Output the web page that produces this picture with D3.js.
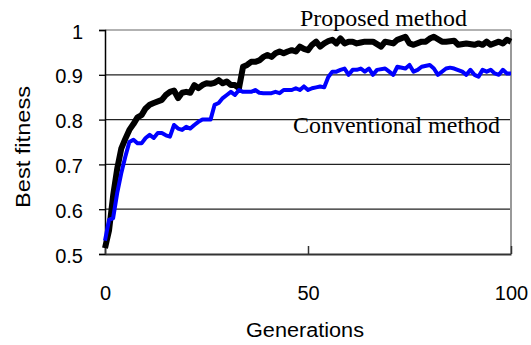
<!DOCTYPE html>
<html>
<head>
<meta charset="utf-8">
<script src="https://cdn.jsdelivr.net/npm/d3@7.9.0/dist/d3.min.js"></script>
<style>
  body { margin: 0; background: #fff; }
  svg { display: block; }
  .tick-label { font-family: "Liberation Sans", Arial, sans-serif; font-size: 20px; fill: #000; }
  .axis-title { font-family: "Liberation Sans", Arial, sans-serif; font-size: 20px; fill: #000; }
  .series-label { font-family: "Liberation Serif", "Times New Roman", serif; font-size: 23px; fill: #000; }
</style>
</head>
<body>
<svg id="chart" width="531" height="345"></svg>
<script>
// values: [generation, best fitness]
const proposed = [
  [0, 0.513], [1, 0.553], [2, 0.63], [3, 0.69], [4, 0.735], [5, 0.757], [6, 0.777],
  [7, 0.79], [8, 0.805], [9, 0.81], [10, 0.825], [11, 0.833], [12, 0.837], [14, 0.844],
  [15, 0.855], [16, 0.862], [17, 0.865], [18, 0.848], [19, 0.86], [20, 0.862], [21, 0.86],
  [22, 0.877], [23, 0.87], [24, 0.877], [25, 0.881], [26, 0.88], [27, 0.882], [28, 0.888],
  [29, 0.881], [30, 0.885], [31, 0.877], [32, 0.877], [33, 0.87], [34, 0.918], [35, 0.922],
  [36, 0.929], [37, 0.929], [38, 0.932], [39, 0.94], [40, 0.944], [41, 0.94], [42, 0.948],
  [43, 0.952], [44, 0.948], [45, 0.952], [46, 0.955], [47, 0.952], [48, 0.963], [49, 0.958],
  [50, 0.955], [51, 0.967], [52, 0.974], [53, 0.963], [54, 0.97], [55, 0.975], [56, 0.978],
  [57, 0.97], [58, 0.981], [59, 0.97], [60, 0.974], [61, 0.974], [62, 0.97], [63, 0.972],
  [64, 0.974], [66, 0.974], [68, 0.963], [69, 0.974], [71, 0.97], [72, 0.978], [74, 0.985],
  [75, 0.97], [76, 0.967], [78, 0.974], [79, 0.974], [80, 0.981], [81, 0.985], [83, 0.974],
  [84, 0.974], [86, 0.976], [87, 0.967], [89, 0.97], [91, 0.967], [92, 0.97], [93, 0.967],
  [94, 0.974], [95, 0.967], [97, 0.974], [98, 0.97], [99, 0.978], [100, 0.974]
];

const conventional = [
  [0, 0.53], [1, 0.576], [2, 0.58], [3, 0.636], [4, 0.68], [5, 0.717], [6, 0.75],
  [7, 0.755], [8, 0.747], [9, 0.747], [10, 0.759], [11, 0.766], [12, 0.759], [13, 0.77],
  [14, 0.77], [15, 0.765], [16, 0.762], [17, 0.788], [18, 0.78], [19, 0.777], [20, 0.784],
  [21, 0.78], [22, 0.788], [23, 0.795], [24, 0.8], [25, 0.8], [26, 0.8], [27, 0.833],
  [28, 0.837], [29, 0.848], [30, 0.855], [31, 0.862], [32, 0.855], [33, 0.866], [34, 0.862],
  [35, 0.862], [36, 0.862], [37, 0.866], [38, 0.86], [39, 0.859], [40, 0.859], [41, 0.859],
  [42, 0.862], [43, 0.859], [44, 0.866], [45, 0.866], [46, 0.866], [47, 0.87], [48, 0.866],
  [49, 0.874], [50, 0.866], [51, 0.87], [52, 0.872], [53, 0.874], [54, 0.872], [55, 0.895],
  [56, 0.907], [57, 0.907], [58, 0.911], [59, 0.914], [60, 0.9], [61, 0.911], [62, 0.911],
  [63, 0.914], [64, 0.907], [65, 0.914], [66, 0.9], [67, 0.911], [69, 0.914], [70, 0.907],
  [71, 0.9], [72, 0.918], [74, 0.914], [75, 0.922], [76, 0.907], [77, 0.911], [78, 0.918],
  [80, 0.922], [81, 0.914], [82, 0.9], [84, 0.914], [85, 0.916], [86, 0.914], [88, 0.907],
  [89, 0.9], [90, 0.911], [91, 0.9], [92, 0.896], [93, 0.911], [94, 0.907], [95, 0.911],
  [96, 0.903], [97, 0.9], [98, 0.911], [99, 0.903], [100, 0.903]
];

const xTicks = [0, 50, 100];
const yTicks = [0.5, 0.6, 0.7, 0.8, 0.9, 1];
const gridValues = [0.6, 0.7, 0.8, 0.9];

const svg = d3.select("#chart");
const x = d3.scaleLinear().domain([0, 100]).range([105, 511]);
const y = d3.scaleLinear().domain([0.5, 1]).range([254, 30]);

// grid lines
svg.append("g")
  .selectAll("line")
  .data(gridValues)
  .join("line")
  .attr("x1", x(0)).attr("x2", x(100))
  .attr("y1", d => y(d)).attr("y2", d => y(d))
  .attr("stroke", "#222")
  .attr("stroke-width", 1.3);

// frame: top + right grey, left black, bottom dark
svg.append("line")
  .attr("x1", x(0)).attr("x2", x(100)).attr("y1", y(1)).attr("y2", y(1))
  .attr("stroke", "#999").attr("stroke-width", 1.5);
svg.append("line")
  .attr("x1", x(100)).attr("x2", x(100)).attr("y1", y(1)).attr("y2", y(0.5))
  .attr("stroke", "#999").attr("stroke-width", 2);

// y axis
const yAxis = svg.append("g")
  .attr("transform", `translate(${x(0)},0)`)
  .call(d3.axisLeft(y).tickValues(yTicks).tickSize(6).tickFormat(d => d === 1 ? "1" : d3.format(".1f")(d)));
yAxis.select(".domain").attr("stroke", "#000").attr("stroke-width", 1.5);
yAxis.selectAll(".tick line").attr("stroke", "#000").attr("stroke-width", 1.3);
yAxis.selectAll(".tick text")
  .attr("class", "tick-label")
  .attr("x", -22)
  .attr("dy", "0.4em")
  .style("font-family", null).style("font-size", null);
yAxis.attr("font-family", null).attr("font-size", null);

// x axis with inward ticks
const xAxis = svg.append("g")
  .attr("transform", `translate(0,${y(0.5)})`)
  .call(d3.axisBottom(x).tickValues(xTicks).tickSizeInner(-8).tickSizeOuter(0));
xAxis.select(".domain").attr("stroke", "#333").attr("stroke-width", 2.2);
xAxis.selectAll(".tick line").attr("stroke", "#333").attr("stroke-width", 1.5);
xAxis.selectAll(".tick text")
  .attr("class", "tick-label")
  .attr("y", 46)
  .attr("dy", 0);
xAxis.attr("font-family", null).attr("font-size", null);

// series lines
const line = d3.line().x(d => x(d[0])).y(d => y(d[1])).curve(d3.curveLinear);

svg.append("path")
  .datum(proposed)
  .attr("d", line)
  .attr("fill", "none")
  .attr("stroke", "#000")
  .attr("stroke-width", 6)
  .attr("stroke-linejoin", "round");

svg.append("path")
  .datum(conventional)
  .attr("d", line)
  .attr("fill", "none")
  .attr("stroke", "#0000ff")
  .attr("stroke-width", 4)
  .attr("stroke-linejoin", "round");

// series labels
svg.append("text").attr("class", "series-label")
  .attr("x", 300).attr("y", 26)
  .attr("textLength", 167).attr("lengthAdjust", "spacingAndGlyphs")
  .text("Proposed method");
svg.append("text").attr("class", "series-label")
  .attr("x", 293).attr("y", 133)
  .attr("textLength", 207).attr("lengthAdjust", "spacingAndGlyphs")
  .text("Conventional method");

// axis titles
svg.append("text").attr("class", "axis-title")
  .attr("x", 305).attr("y", 337)
  .attr("text-anchor", "middle")
  .attr("textLength", 118).attr("lengthAdjust", "spacingAndGlyphs")
  .text("Generations");
svg.append("text").attr("class", "axis-title")
  .attr("transform", "translate(30,147) rotate(-90)")
  .attr("text-anchor", "middle")
  .attr("textLength", 122).attr("lengthAdjust", "spacingAndGlyphs")
  .text("Best fitness");
</script>
</body>
</html>
